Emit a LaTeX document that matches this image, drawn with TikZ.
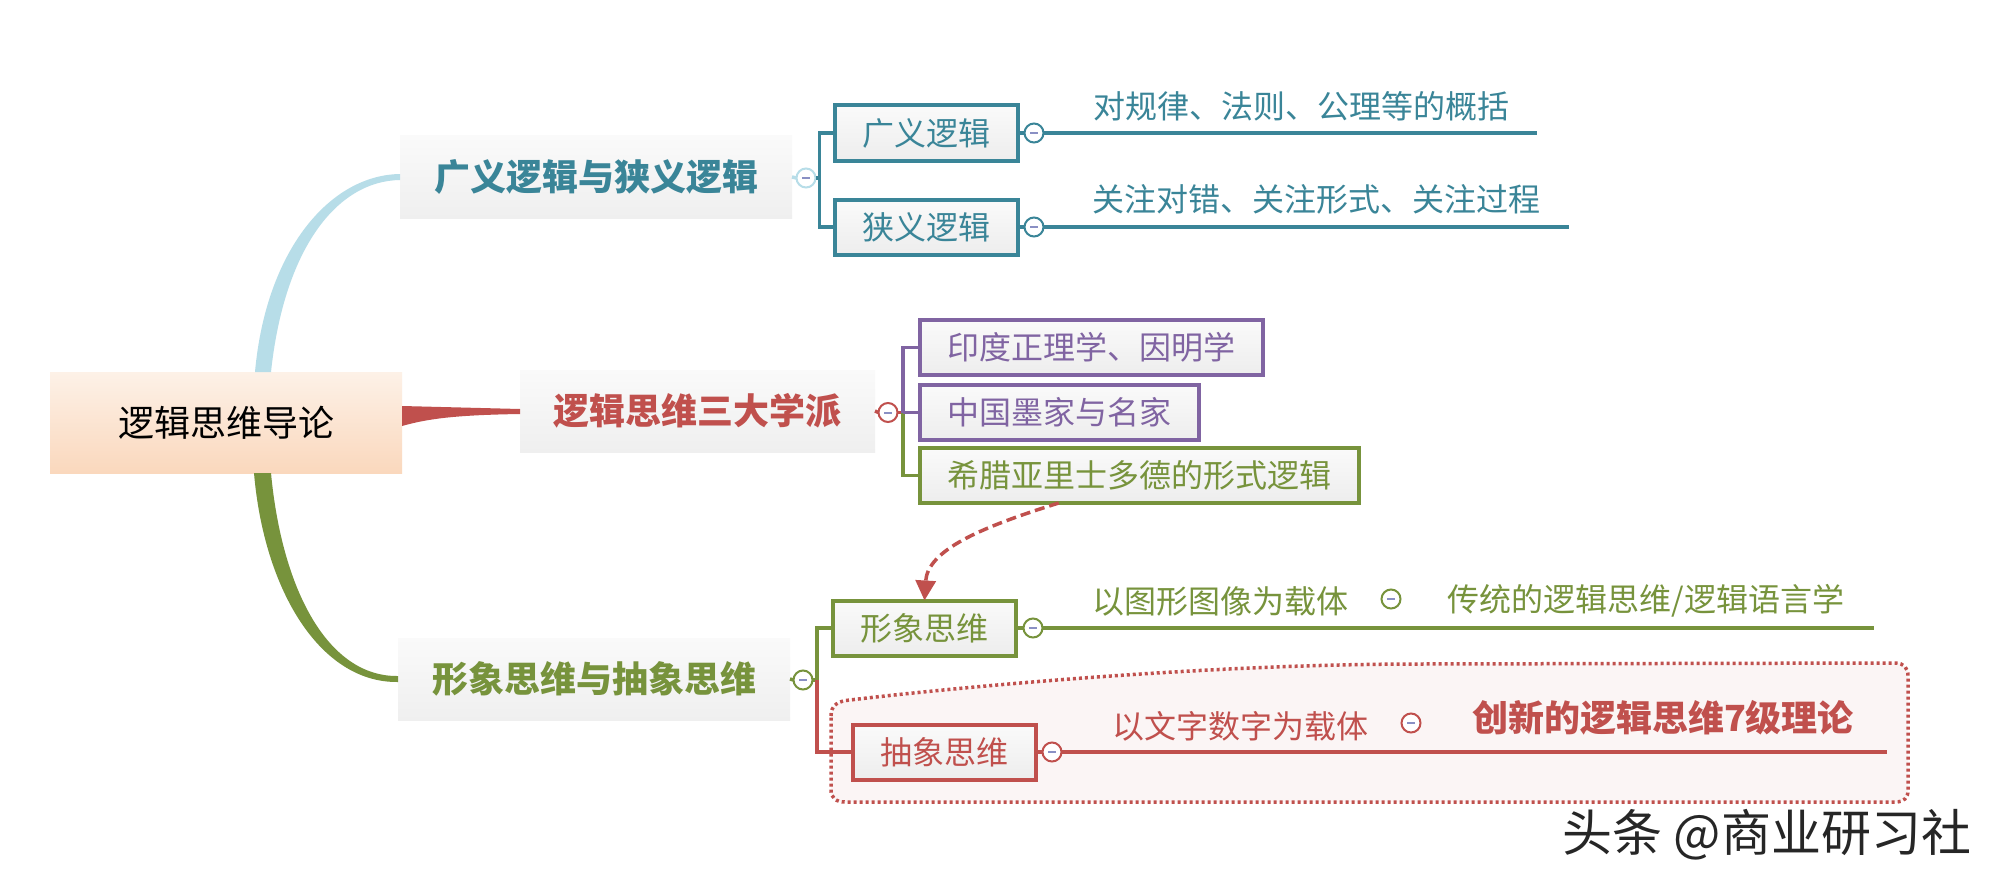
\documentclass[tikz,border=0pt]{standalone}
\usepackage{fontspec}
\setmainfont{Noto Sans CJK SC}
\usetikzlibrary{arrows.meta,calc}
\definecolor{tealc}{HTML}{3A8598}
\definecolor{lblue}{HTML}{B7DDE8}
\definecolor{purp}{HTML}{8064A2}
\definecolor{grn}{HTML}{77933C}
\definecolor{redc}{HTML}{C0504D}
\definecolor{dashb}{HTML}{8A90C4}
\definecolor{pinkbg}{HTML}{FBF5F5}
\tikzset{
  every node/.style={inner sep=0pt, outer sep=0pt},
  rootbox/.style={rectangle, top color={rgb,255:red,253;green,241;blue,231}, bottom color={rgb,255:red,250;green,216;blue,189},
     minimum width=352pt, minimum height=101pt, font=\fontsize{36}{40}\selectfont},
  mainbox/.style={rectangle, top color={rgb,255:red,250;green,250;blue,250}, bottom color={rgb,255:red,239;green,239;blue,239},
     minimum height=82pt, font=\fontsize{36}{40}\selectfont\bfseries},
  subbox/.style={rectangle, draw, line width=4pt, top color={rgb,255:red,250;green,250;blue,250}, bottom color={rgb,255:red,237;green,237;blue,237},
     minimum height=55pt, font=\fontsize{32}{36}\selectfont},
  toggle/.style={circle, draw, line width=2pt, fill=white, minimum size=19pt,
     path picture={\draw[dashb, line width=2pt] ($(path picture bounding box.center)+(-4pt,0)$) -- ++(8pt,0);}},
  leaf/.style={font=\fontsize{32}{36}\selectfont},
  brk/.style={line width=3.5pt},
  leafline/.style={line width=4pt},
}
\begin{document}
\begin{tikzpicture}[x=1pt,y=-1pt]
\useasboundingbox (0,0) rectangle (2002,888);
\fill[white] (0,0) rectangle (2002,888);

% dotted region
\draw[redc, line width=3.5pt, dash pattern=on 3pt off 3pt, fill=pinkbg]
  (831,716) .. controls (831,705) and (838,701) .. (850,700)
  .. controls (950,688) and (1200,664) .. (1420,664) -- (1895,663)
  .. controls (1904,663) and (1908,668) .. (1908,676) -- (1908,790)
  .. controls (1908,798) and (1904,802) .. (1895,802) -- (845,802)
  .. controls (836,802) and (831,798) .. (831,790) -- cycle;

% root and main nodes
\node[rootbox] (root) at (226,422.5) {逻辑思维导论};
\node[mainbox, minimum width=392pt, text=tealc] (b1) at (596,177) {广义逻辑与狭义逻辑};
\node[mainbox, minimum width=355pt, text=redc] (b2) at (697.5,411) {逻辑思维三大学派};
\node[mainbox, minimum width=392pt, text=grn] (b3) at (594,679) {形象思维与抽象思维};

% root connectors
\fill[lblue] ($(root.north west)+(205,0)$) .. controls (266,250) and (330,175) .. ($(b1.west)+(0,-3)$)
   -- ($(b1.west)+(0,3)$) .. controls (336,181) and (284,250) .. ($(root.north west)+(221,0)$) -- cycle;
\fill[grn] ($(root.south west)+(204,0)$) .. controls (264,590) and (320,683) .. ($(b3.west)+(0,3)$)
   -- ($(b3.west)+(0,-3)$) .. controls (328,677) and (282,590) .. ($(root.south west)+(221,0)$) -- cycle;
\fill[redc] ($(root.east)+(0,-16.5)$) -- ($(b2.west)+(0,-2)$) -- ($(b2.west)+(0,3)$)
   .. controls (460,415) and (430,418) .. ($(root.east)+(0,3.5)$) -- cycle;

% branch 1
\node[subbox, draw=tealc, text=tealc, minimum width=183pt] (c11) at (926.5,133) {广义逻辑};
\node[subbox, draw=tealc, text=tealc, minimum width=183pt] (c12) at (926.5,227) {狭义逻辑};
\node[toggle, draw=lblue] (t1) at (806,178) {};
\coordinate (k1) at (819.5,178);
\draw[lblue, brk] (b1.east) -- (t1.west);
\draw[tealc, brk] (t1.east) -- (k1);
\draw[tealc, brk] (k1) |- (c11.west);
\draw[tealc, brk] (k1) |- (c12.west);

\node[toggle, draw=tealc] (l11) at (1034,133) {};
\coordinate (e11) at (1537,133);
\draw[tealc, leafline] (c11.east) -- (l11.west);
\draw[tealc, leafline] (l11.east) -- (e11);
\node[leaf, text=tealc] (x11) at (1301,106) {对规律、法则、公理等的概括};

\node[toggle, draw=tealc] (l12) at (1034,227) {};
\coordinate (e12) at (1569,227);
\draw[tealc, leafline] (c12.east) -- (l12.west);
\draw[tealc, leafline] (l12.east) -- (e12);
\node[leaf, text=tealc] (x12) at (1316,199) {关注对错、关注形式、关注过程};

% branch 2
\node[subbox, draw=purp, text=purp, minimum width=343pt] (c21) at (1091.5,347.5) {印度正理学、因明学};
\node[subbox, draw=purp, text=purp, minimum width=279pt] (c22) at (1059.5,412.5) {中国墨家与名家};
\node[subbox, draw=grn, text=grn, minimum width=439pt] (c23) at (1139.5,475.5) {希腊亚里士多德的形式逻辑};
\node[toggle, draw=redc] (t2) at (888,412.5) {};
\coordinate (k2) at (903,412.5);
\draw[redc, brk] (b2.east) -- (t2.west);
\draw[redc, brk] (t2.east) -- (k2);
\draw[grn, brk] (k2) |- (c23.west);
\draw[purp, brk] (k2) |- (c21.west);
\draw[purp, brk] (k2) -- (c22.west);

% branch 3
\node[subbox, draw=grn, text=grn, minimum width=183pt] (c31) at (924.5,628) {形象思维};
\node[subbox, draw=redc, text=redc, minimum width=183pt] (c32) at (944.5,752) {抽象思维};
\node[toggle, draw=grn] (t3) at (803,680) {};
\coordinate (k3) at (817,680);
\draw[grn, brk] (b3.east) -- (t3.west);
\draw[grn, brk] (t3.east) -- (k3);
\draw[redc, brk] (k3) |- (c32.west);
\draw[grn, brk] (k3) |- (c31.west);

\node[toggle, draw=grn] (l31) at (1033,628) {};
\coordinate (e31) at (1874,628);
\draw[grn, leafline] (c31.east) -- (l31.west);
\draw[grn, leafline] (l31.east) -- (e31);
\node[leaf, text=grn] (x31) at (1220,601) {以图形图像为载体};
\node[toggle, draw=grn] (m31) at (1391,599) {};
\node[leaf, text=grn] (y31) at (1646,601) {传统的逻辑思维/逻辑语言学};

\node[toggle, draw=redc] (l32) at (1052,752) {};
\coordinate (e32) at (1887,752);
\draw[redc, leafline] (c32.east) -- (l32.west);
\draw[redc, leafline] (l32.east) -- (e32);
\node[leaf, text=redc] (x32) at (1240,726) {以文字数字为载体};
\node[toggle, draw=redc] (m32) at (1411,723) {};
\node[text=redc, font=\fontsize{36}{40}\selectfont\bfseries] (y32) at (1663,718) {创新的逻辑思维7级理论};

% relation arrow
\draw[redc, line width=3.5pt, dash pattern=on 10pt off 5pt, -{Triangle[length=20pt,width=20pt]}]
  ($(c23.south west)!0.316!(c23.south east)$) .. controls +(-80,25) and +(3,-50) .. (c31.north);

% watermark
\node[font=\fontsize{50}{54}\selectfont, text=black!85] (wm) at (1767,835) {头条 @商业研习社};
\end{tikzpicture}
\end{document}
